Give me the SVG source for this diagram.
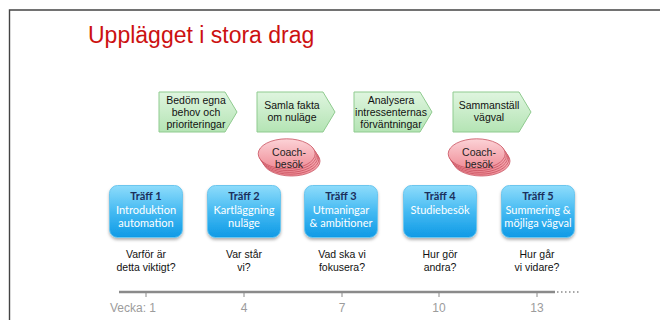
<svg xmlns="http://www.w3.org/2000/svg" width="660" height="320" viewBox="0 0 660 320">
<defs>
<linearGradient id="gGreen" x1="0" y1="0" x2="0" y2="1">
<stop offset="0" stop-color="#dff5df"/>
<stop offset="1" stop-color="#b4e4b4"/>
</linearGradient>
<linearGradient id="gPink" x1="0" y1="0" x2="0" y2="1">
<stop offset="0" stop-color="#fcd3d7"/>
<stop offset="1" stop-color="#ef8d97"/>
</linearGradient>
<linearGradient id="gBlue" x1="0" y1="0" x2="0" y2="1">
<stop offset="0" stop-color="#8edcfb"/>
<stop offset="0.5" stop-color="#45baf2"/>
<stop offset="1" stop-color="#0f9ae6"/>
</linearGradient>
<filter id="sh" x="-20%" y="-20%" width="140%" height="150%">
<feDropShadow dx="0" dy="2" stdDeviation="1.5" flood-color="#000" flood-opacity="0.3"/>
</filter>
</defs>
<style>
.title{font-family:"Liberation Sans",Arial,sans-serif;font-size:23px;fill:#cc1111}
.arr{fill:url(#gGreen);stroke:#8fcb8f;stroke-width:1}
.at{font-family:"Liberation Sans",Arial,sans-serif;font-size:10.5px;fill:#111;text-anchor:middle}
.ell{fill:url(#gPink);stroke:#c8505e;stroke-width:0.8}
.et{font-family:"Liberation Sans",Arial,sans-serif;font-size:10.5px;fill:#222;text-anchor:middle}
.box{fill:url(#gBlue);stroke:#6cc6ee;stroke-width:1}
.bh{font-family:Lato,"Open Sans",sans-serif;font-size:11px;font-weight:bold;fill:#1b2f5c;text-anchor:middle}
.bt{font-family:Lato,"Open Sans",sans-serif;font-size:11px;fill:#ffffff;text-anchor:middle}
.q{font-family:"Liberation Sans",Arial,sans-serif;font-size:10.5px;fill:#111;text-anchor:middle}
.wk{font-family:"Liberation Sans",Arial,sans-serif;font-size:12px;fill:#9c9c9c;text-anchor:middle}
.tick{stroke:#8a8a8a;stroke-width:1}
</style>
<rect width="660" height="320" fill="#ffffff"/>
<path d="M9.5 320 V10 H660" fill="none" stroke="#444" stroke-width="1.4"/>
<text class="title" x="88" y="43">Upplägget i stora drag</text>

<g id="steg1"><path class="arr" d="M159 92 H225 L237 112 L225 132 H159 Z"/>
<text class="at" x="196" y="104">Bedöm egna</text><text class="at" x="196" y="116">behov och</text><text class="at" x="196" y="128">prioriteringar</text></g>
<g id="steg2"><path class="arr" d="M257 92 H323 L335 112 L323 132 H257 Z"/>
<text class="at" x="292" y="109">Samla fakta</text><text class="at" x="292" y="121">om nuläge</text></g>
<g id="steg3"><path class="arr" d="M354 92 H420 L432 112 L420 132 H354 Z"/>
<text class="at" x="391" y="104">Analysera</text><text class="at" x="391" y="116">intressenternas</text><text class="at" x="391" y="128">förväntningar</text></g>
<g id="steg4"><path class="arr" d="M453 92 H519 L531 112 L519 132 H453 Z"/>
<text class="at" x="489" y="109">Sammanställ</text><text class="at" x="489" y="121">vägval</text></g>

<g id="coach1">
<ellipse class="ell" cx="291.5" cy="161" rx="28.5" ry="15"/>
<ellipse class="ell" cx="290.3" cy="159.2" rx="28.5" ry="15"/>
<ellipse class="ell" cx="289.1" cy="157.4" rx="28.5" ry="15"/>
<ellipse class="ell" cx="287.9" cy="155.6" rx="28.5" ry="15"/>
<ellipse class="ell" cx="286.7" cy="153.8" rx="28.5" ry="15"/>
<text class="et" x="289" y="156">Coach-</text><text class="et" x="289" y="168">besök</text></g>
<g id="coach2">
<ellipse class="ell" cx="481.5" cy="161" rx="28.5" ry="15"/>
<ellipse class="ell" cx="480.3" cy="159.2" rx="28.5" ry="15"/>
<ellipse class="ell" cx="479.1" cy="157.4" rx="28.5" ry="15"/>
<ellipse class="ell" cx="477.9" cy="155.6" rx="28.5" ry="15"/>
<ellipse class="ell" cx="476.7" cy="153.8" rx="28.5" ry="15"/>
<text class="et" x="479" y="156">Coach-</text><text class="et" x="479" y="168">besök</text></g>

<g id="traff1"><rect class="box" filter="url(#sh)" x="109.5" y="185.5" width="73" height="52" rx="8"/>
<text class="bh" x="146" y="200">Träff 1</text><text class="bt" x="146" y="214">Introduktion</text><text class="bt" x="146" y="227">automation</text></g>
<g id="traff2"><rect class="box" filter="url(#sh)" x="207.5" y="185.5" width="73" height="52" rx="8"/>
<text class="bh" x="244" y="200">Träff 2</text><text class="bt" x="244" y="214">Kartläggning</text><text class="bt" x="244" y="227">nuläge</text></g>
<g id="traff3"><rect class="box" filter="url(#sh)" x="304.5" y="185.5" width="73" height="52" rx="8"/>
<text class="bh" x="341" y="200">Träff 3</text><text class="bt" x="341" y="214">Utmaningar</text><text class="bt" x="341" y="227">&amp; ambitioner</text></g>
<g id="traff4"><rect class="box" filter="url(#sh)" x="403.5" y="185.5" width="73" height="52" rx="8"/>
<text class="bh" x="440" y="200">Träff 4</text><text class="bt" x="440" y="214">Studiebesök</text></g>
<g id="traff5"><rect class="box" filter="url(#sh)" x="501.5" y="185.5" width="73" height="52" rx="8"/>
<text class="bh" x="538" y="200">Träff 5</text><text class="bt" x="538" y="214">Summering &amp;</text><text class="bt" x="538" y="227">möjliga vägval</text></g>

<g id="fragor">
<text class="q" x="146" y="258">Varför är</text><text class="q" x="146" y="271">detta viktigt?</text>
<text class="q" x="244" y="258">Var står</text><text class="q" x="244" y="271">vi?</text>
<text class="q" x="342" y="258">Vad ska vi</text><text class="q" x="342" y="271">fokusera?</text>
<text class="q" x="440" y="258">Hur gör</text><text class="q" x="440" y="271">andra?</text>
<text class="q" x="537" y="258">Hur går</text><text class="q" x="537" y="271">vi vidare?</text>
</g>

<g id="tidslinje">
<line x1="119" y1="292" x2="555" y2="292" stroke="#8a8a8a" stroke-width="2.5"/>
<line x1="557" y1="292" x2="580" y2="292" stroke="#8a8a8a" stroke-width="1.5" stroke-dasharray="1.5,2.5"/>
<line class="tick" x1="146" y1="292" x2="146" y2="297"/>
<line class="tick" x1="244" y1="292" x2="244" y2="297"/>
<line class="tick" x1="342" y1="292" x2="342" y2="297"/>
<line class="tick" x1="439" y1="292" x2="439" y2="297"/>
<line class="tick" x1="537" y1="292" x2="537" y2="297"/>
<text class="wk" x="133" y="312">Vecka: 1</text>
<text class="wk" x="244" y="312">4</text>
<text class="wk" x="342" y="312">7</text>
<text class="wk" x="439" y="312">10</text>
<text class="wk" x="537" y="312">13</text>
</g>
</svg>
